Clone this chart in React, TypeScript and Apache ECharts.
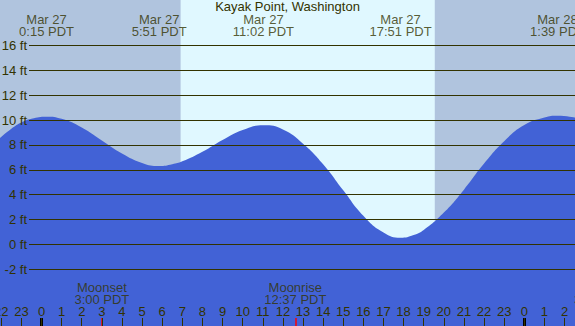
import React, { useEffect, useRef } from 'react';
import * as echarts from 'echarts';

// ---- data ----
const TITLE = 'Kayak Point, Washington';
// tide curve: hours since Mar 27 00:00 PDT, height in ft
const HOURS = [-2.063, -1.5, -1, -0.5, 0.25, 1, 2, 3, 4, 5, 5.85, 6.5, 7, 8, 9, 10, 11.03, 12, 13, 14, 15, 16, 17, 17.85, 18.5, 19, 20, 21, 22, 23, 24, 25, 25.65, 26.52];
const HEIGHTS = [8.55, 9.3, 9.8, 10.1, 10.27, 10.1, 9.4, 8.35, 7.3, 6.55, 6.3, 6.45, 6.68, 7.45, 8.4, 9.2, 9.58, 9.25, 8.1, 6.45, 4.35, 2.3, 0.95, 0.53, 0.75, 1.15, 2.55, 4.4, 6.5, 8.3, 9.6, 10.2, 10.35, 10.2];
// tide extremes labels
const EVENT_HOURS = [0.25, 5.85, 11.033, 17.85, 25.65];
const EVENT_DATES = ['Mar 27', 'Mar 27', 'Mar 27', 'Mar 27', 'Mar 28'];
const EVENT_TIMES = ['0:15 PDT', '5:51 PDT', '11:02 PDT', '17:51 PDT', '1:39 PDT'];
// moon events
const MOON_HOURS = [3, 12.617, 27.833];
const MOON_NAMES = ['Moonset', 'Moonrise', 'Moonset'];
const MOON_TIMES = ['3:00 PDT', '12:37 PDT', '3:50 PDT'];
// sun
const SUNRISE = 6.915;
const SUNSET = 19.55;
// midnights
const MIDNIGHTS = [0, 24];
// axis ticks
const HOUR_TICKS = [-2, -1, 0, 1, 2, 3, 4, 5, 6, 7, 8, 9, 10, 11, 12, 13, 14, 15, 16, 17, 18, 19, 20, 21, 22, 23, 24, 25, 26];
const FT_TICKS = [-2, 0, 2, 4, 6, 8, 10, 12, 14, 16];

// ---- layout / style ----
const X_MIN = -2.063;
const X_MAX = 26.52;
const Y_MIN = -6.58;
const Y_MAX = 19.67;
const GRIDLINE_START = -0.621; // hour where horizontal rules begin
const LABEL_Y = 17.62; // vertical centre of tide labels (ft)
const MOON_LABEL_Y = -3.95;
const TICK_TOP = -5.94;

const NIGHT = '#b0c4de';
const DAY = '#e0f8ff';
const WATER = '#4262d6';
const INK = '#333300';
const FONT = '"Liberation Sans", Arial, sans-serif';
const FS = 13;

export default function App() {
  const ref = useRef<HTMLDivElement>(null);
  useEffect(() => {
    if (!ref.current) return;
    const chart = echarts.init(ref.current, null, { renderer: 'svg' });
    const tide = HOURS.map((h, i) => [h, HEIGHTS[i]]);
    const invisible = { lineStyle: { opacity: 0 }, showSymbol: false, symbol: 'none', silent: true };
    const option: any = {
      animation: false,
      backgroundColor: NIGHT,
      textStyle: { fontFamily: FONT },
      title: {
        text: TITLE,
        left: 'center',
        top: 0,
        padding: [0, 0, 0, 0],
        textStyle: { fontSize: FS, fontWeight: 'normal', color: INK, fontFamily: FONT },
      },
      grid: { left: 0, right: 0, top: 0, bottom: 0, containLabel: false, outerBoundsMode: 'none' },
      xAxis: {
        type: 'value',
        z: 10,
        min: X_MIN,
        max: X_MAX,
        axisLine: { show: false, onZero: false },
        splitLine: { show: false },
        axisTick: { show: true, inside: true, length: 8, customValues: HOUR_TICKS, lineStyle: { color: INK, width: 1 } },
        axisLabel: {
          show: true,
          inside: true,
          margin: 8,
          customValues: HOUR_TICKS,
          formatter: (v: number) => String(((Math.round(v) % 24) + 24) % 24),
          color: INK,
          fontSize: FS,
          fontFamily: FONT,
        },
      },
      yAxis: {
        type: 'value',
        z: 10,
        min: Y_MIN,
        max: Y_MAX,
        axisLine: { show: false, onZero: false },
        axisTick: { show: false },
        splitLine: { show: false },
        axisLabel: {
          show: true,
          inside: true,
          margin: 27,
          align: 'right',
          customValues: FT_TICKS,
          formatter: (v: number) => `${v} ft`,
          color: INK,
          fontSize: FS,
          fontFamily: FONT,
        },
      },
      series: [
        {
          type: 'line',
          z: 1,
          data: [[SUNRISE, 0], [SUNSET, 0]],
          ...invisible,
          markArea: {
            silent: true,
            itemStyle: { color: DAY },
            data: [[{ xAxis: SUNRISE }, { xAxis: SUNSET }]],
          },
        },
        {
          type: 'line',
          z: 2,
          data: tide,
          smooth: 0.5,
          symbol: 'none',
          showSymbol: false,
          lineStyle: { width: 0 },
          areaStyle: { color: WATER, opacity: 1, origin: 'start' },
          silent: true,
        },
        {
          type: 'line',
          z: 3,
          data: [[0, 0]],
          ...invisible,
          markLine: {
            silent: true,
            symbol: ['none', 'none'],
            label: { show: false },
            lineStyle: { color: INK, width: 1, type: 'solid' },
            data: FT_TICKS.map((v) => [{ coord: [GRIDLINE_START, v] }, { coord: [X_MAX, v] }]),
          },
        },
        {
          type: 'line',
          z: 11,
          data: [[0, 0]],
          ...invisible,
          markLine: {
            silent: true,
            symbol: ['none', 'none'],
            label: { show: false },
            lineStyle: { color: '#000000', width: 3, type: 'solid' },
            data: MIDNIGHTS.map((h) => [{ coord: [h, TICK_TOP] }, { coord: [h, Y_MIN] }]),
          },
        },
        {
          type: 'line',
          z: 11,
          data: [[0, 0]],
          ...invisible,
          markLine: {
            silent: true,
            symbol: ['none', 'none'],
            label: { show: false },
            lineStyle: { color: '#ff0000', width: 1.5, type: 'solid' },
            data: MOON_HOURS.map((h) => [{ coord: [h, TICK_TOP] }, { coord: [h, Y_MIN] }]),
          },
        },
        {
          type: 'scatter',
          z: 12,
          clip: false,
          symbolSize: 0.1,
          itemStyle: { color: 'transparent' },
          silent: true,
          data: EVENT_HOURS.map((h) => [h, LABEL_Y]),
          label: {
            show: true,
            position: 'inside',
            formatter: (p: any) => `${EVENT_DATES[p.dataIndex]}\n${EVENT_TIMES[p.dataIndex]}`,
            color: INK,
            fontSize: FS,
            lineHeight: 12.5,
            fontFamily: FONT,
          },
        },
        {
          type: 'scatter',
          z: 12,
          clip: false,
          symbolSize: 0.1,
          itemStyle: { color: 'transparent' },
          silent: true,
          data: MOON_HOURS.map((h) => [h, MOON_LABEL_Y]),
          label: {
            show: true,
            position: 'inside',
            formatter: (p: any) => `${MOON_NAMES[p.dataIndex]}\n${MOON_TIMES[p.dataIndex]}`,
            color: INK,
            fontSize: FS,
            lineHeight: 12,
            fontFamily: FONT,
          },
        },
      ],
    };
    chart.setOption(option);
    return () => chart.dispose();
  }, []);
  return (
    <div
      ref={ref}
      style={{ position: 'fixed', left: 0, top: 0, width: 575, height: 326 }}
    />
  );
}
